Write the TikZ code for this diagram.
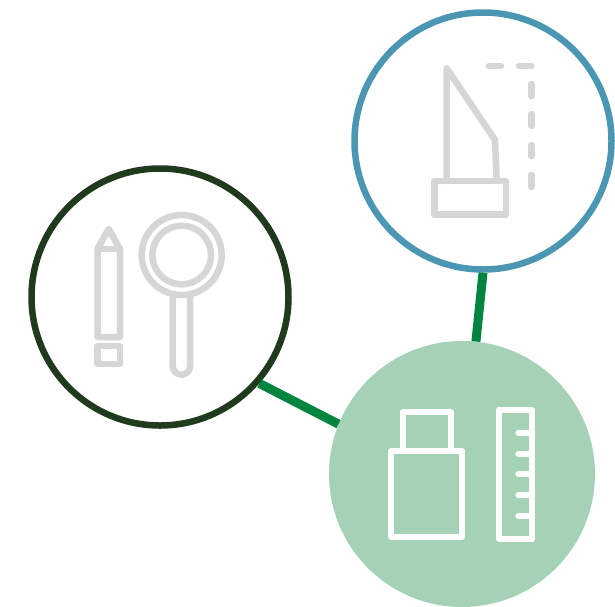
\documentclass[tikz,border=0pt]{standalone}
\definecolor{darkring}{HTML}{1F3A1C}
\definecolor{bluering}{HTML}{4A96B3}
\definecolor{lightdisc}{HTML}{A5D1B7}
\definecolor{linkgreen}{HTML}{00843F}
\definecolor{icongray}{HTML}{D6D6D6}
\tikzset{
  ring/.style={circle,draw=#1,line width=6.5pt,fill=white,inner sep=0pt,minimum size=257pt},
  disc/.style={circle,fill=lightdisc,inner sep=0pt,minimum size=266pt},
  link/.style={draw=linkgreen,line width=9pt},
  grayicon/.style={draw=icongray,line width=6.5pt,line join=round,line cap=round},
  whiteicon/.style={draw=white,line width=6pt,line join=round,line cap=round}
}
\begin{document}
\begin{tikzpicture}[x=1pt,y=-1pt]
\useasboundingbox (0,0) rectangle (615,606);
\clip (0,0) rectangle (615,606);
% circles
\node[ring=darkring] (tools) at (160,297) {};
\node[ring=bluering] (shape) at (483,141) {};
\node[disc] (kit) at (462,474) {};
% connectors
\draw[link] (tools.-41) -- (kit.158);
\draw[link] (shape.-90) -- (kit.84);
% pencil
\draw[grayicon] (97.5,249) -- (108.7,229) -- (120,249) -- (120,337) -- (97.5,337) -- cycle;
\draw[grayicon] (97.5,249) -- (120,249);
\draw[grayicon] (97.5,346) rectangle (120,364);
% magnifier
\draw[grayicon] (181.7,255) circle[radius=40];
\draw[grayicon] (181.7,255) circle[radius=29.3];
\draw[grayicon] (172.7,295) -- (172.7,366) arc[start angle=180,end angle=360,x radius=8.7,y radius=-8.7] -- (190,295);
% trophy-like shape
\draw[grayicon] (446.7,68.3) -- (446.7,181) (446.7,68.3) -- (495,140) -- (496.7,181);
\draw[grayicon] (434.3,181) rectangle (506,214.3);
\draw[grayicon] (489,66) -- (501,66) (519,66) -- (531.5,66);
\draw[grayicon] (531.5,84) -- (531.5,96) (531.5,114) -- (531.5,126) (531.5,145) -- (531.5,156) (531.5,175) -- (531.5,187);
% usb
\draw[whiteicon] (391.3,450.7) rectangle (462,537);
\draw[whiteicon] (402.7,450.7) -- (402.7,412.3) -- (451,412.3) -- (451,450.7);
% ruler
\draw[whiteicon] (499,409.7) rectangle (532,539);
\draw[whiteicon] (518.3,433) -- (532,433) (518.3,453.7) -- (532,453.7) (518.3,474.3) -- (532,474.3) (518.3,495) -- (532,495) (518.3,515.7) -- (532,515.7);
\end{tikzpicture}
\end{document}
